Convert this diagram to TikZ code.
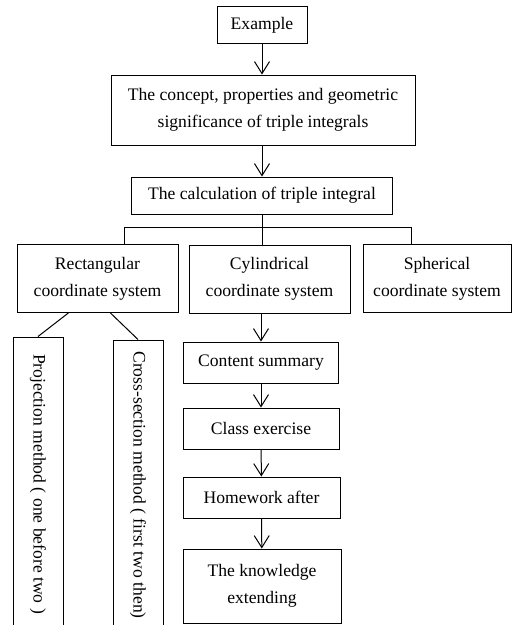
\documentclass[tikz,border=0pt]{standalone}
\usepackage{fontspec}
\setmainfont{Liberation Serif}
\usetikzlibrary{arrows.meta,calc}

\tikzset{
  box/.style={draw, line width=1pt, inner sep=0pt, align=center,
    font=\fontsize{17.6}{27}\selectfont},
  arr/.style={draw, line width=1pt, -{Straight Barb[length=12pt,width=15pt]}},
  link/.style={draw, line width=1pt}
}

\begin{document}
\begin{tikzpicture}[x=1pt, y=-1pt]

    \useasboundingbox (0,0) rectangle (512,625);

    % Top chain
    \node[box, minimum width=90pt, minimum height=37pt] (ex) at (262,25) {Example};
    \node[box, minimum width=304pt, minimum height=70pt] (concept) at (263,110)
      {The concept, properties and geometric\\significance of triple integrals};
    \node[box, minimum width=261pt, minimum height=37pt] (calc) at (262,195.5)
      {The calculation of triple integral};

    \draw[arr] (ex) -- (ex |- concept.north);
    \draw[arr] (concept.south -| calc) -- (calc);

    % Three coordinate systems
    \node[box, minimum width=161pt, minimum height=68pt] (rect) at (97.5,278.5)
      {Rectangular\\coordinate system};
    \node[box, minimum width=161pt, minimum height=68pt] (cyl) at (269.5,279)
      {Cylindrical\\coordinate system};
    \node[box, minimum width=148pt, minimum height=68pt] (sph) at (437,278.5)
      {Spherical\\coordinate system};

    % Bus
    \coordinate (busL) at (124,227);
    \coordinate (busR) at (411,227);
    \draw[link] (busL) -- (busR);
    \draw[link] (calc) -- (calc |- busL);
    \draw[link] (busL) -- (busL |- rect.north);
    \draw[link] (calc |- busL) -- (calc |- cyl.north);
    \draw[link] (busR) -- (busR |- sph.north);

    % Rectangular methods (boxes run past the page edge)
    \node[box, minimum width=50pt, minimum height=294pt] (proj) at (38,484)
      {\rotatebox{-90}{Projection method ( one before two )}};
    \node[box, minimum width=50pt, minimum height=290pt] (cross) at (138,485)
      {\rotatebox{-90}{Cross-section method ( first two then)}};

    \draw[link] ($(rect.south west)!0.32!(rect.south east)$) -- (proj.north);
    \draw[link] ($(rect.south west)!0.58!(rect.south east)$) -- (cross.north);

    % Cylindrical chain
    \node[box, minimum width=155pt, minimum height=41pt] (summary) at (261,362.5)
      {Content summary};
    \node[box, minimum width=156pt, minimum height=41pt] (exercise) at (261,428.5)
      {Class exercise};
    \node[box, minimum width=157pt, minimum height=41pt] (homework) at (261.5,497.5)
      {Homework after};
    \node[box, minimum width=158pt, minimum height=74pt] (extend) at (262,586)
      {The knowledge\\extending};

    \draw[arr] (cyl.south -| summary) -- (summary);
    \draw[arr] (summary) -- (exercise);
    \draw[arr] (exercise) -- (homework);
    \draw[arr] (homework) -- (extend);

\end{tikzpicture}
\end{document}
